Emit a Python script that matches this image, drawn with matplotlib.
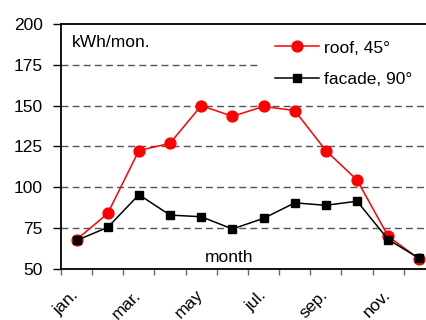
import numpy as np
import matplotlib.pyplot as plt
from matplotlib.ticker import FixedLocator, NullFormatter, MultipleLocator
from matplotlib.transforms import ScaledTranslation

plt.rcParams['font.family'] = ['Liberation Sans', 'DejaVu Sans']
plt.rcParams['font.size'] = 12.5

months = ['jan.', 'feb.', 'mar.', 'apr.', 'may', 'jun.',
          'jul.', 'aug.', 'sep.', 'oct.', 'nov.', 'dec.']
roof = [68, 84, 122.5, 127, 150, 143.5, 149.5, 147, 122.5, 104.5, 70, 56]
facade = [67.5, 75.5, 95.5, 83, 82, 74.5, 81, 90.5, 89, 91.5, 68, 56.5]

fig = plt.figure(figsize=(4.27, 3.2), dpi=100)
W, H = 427, 320
# plot area runs slightly past the right edge of the figure
ax = fig.add_axes([61 / W, 1 - 269 / H, 374 / W, 245 / H])

x = np.arange(len(months))
ax.plot(x, roof, color='red', lw=1.1, marker='o', ms=7.8,
        mec='red', mfc='red', label='roof, 45°', zorder=4, clip_on=False)
ax.plot(x, facade, color='black', lw=1.1, marker='s', ms=5.8,
        label='facade, 90°', zorder=5, clip_on=False)

ax.set_xlim(-0.5, len(months) - 0.5)
ax.set_ylim(50, 200)
ax.yaxis.set_major_locator(MultipleLocator(25))
for yv in [75, 100, 125, 150, 175]:
    ax.axhline(yv, color='#555555', lw=1.0, ls=(0, (5, 3)), zorder=1)

# category boundaries carry the tick marks, labels sit on every other month
ax.xaxis.set_major_locator(FixedLocator(x[::2]))
ax.set_xticklabels(months[::2], rotation=45, ha='right', va='center',
                   rotation_mode='anchor')
shift = ScaledTranslation(-9 / 100, 0, fig.dpi_scale_trans)
for lab in ax.get_xticklabels():
    lab.set_transform(lab.get_transform() + shift)
ax.xaxis.set_minor_locator(FixedLocator(np.arange(-0.5, len(months), 1)))
ax.xaxis.set_minor_formatter(NullFormatter())
ax.tick_params(axis='x', which='major', length=0, pad=17)
ax.tick_params(axis='x', which='minor', length=4, width=1, color='#666666')
ax.tick_params(axis='y', length=6, width=1, pad=7, color='black')

for side in ['left', 'bottom', 'top']:
    ax.spines[side].set_linewidth(1.3)
ax.spines['right'].set_visible(False)

ax.text(0.03, 0.925, 'kWh/mon.', transform=ax.transAxes, va='center', ha='left')
ax.text(0.449, 0.048, 'month', transform=ax.transAxes, va='center', ha='center')

leg = ax.legend(loc='upper left', bbox_to_anchor=(258 / W, 1 - 23 / H),
                bbox_transform=fig.transFigure, frameon=True, fancybox=False,
                edgecolor='none', facecolor='white', framealpha=1,
                handlelength=2.5, handletextpad=0.3, labelspacing=0.92,
                borderpad=1.0, borderaxespad=0)
leg.set_zorder(2.2)

fig.savefig('out.png', dpi=100)
